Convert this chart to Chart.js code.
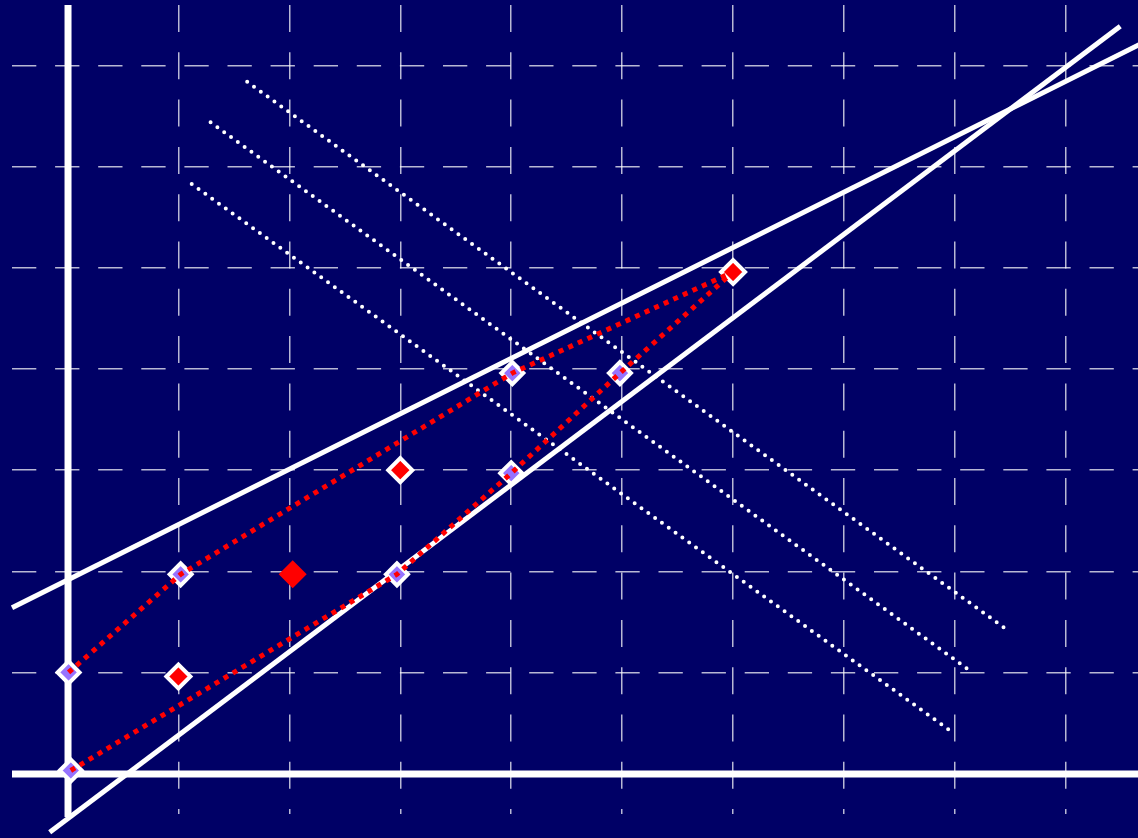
<!DOCTYPE html>
<html>
<head>
<meta charset="utf-8">
<script src="https://cdn.jsdelivr.net/npm/chart.js@4"></script>
<style>
  html, body { margin: 0; padding: 0; background: #000066; }
  #wrap { width: 1138px; height: 838px; }
</style>
</head>
<body>
<div id="wrap"><canvas id="chartOutput" width="1138" height="838"></canvas></div>
<script>
// purple diamonds (white border)
var purpleX = [0.01, 0.03, 1.02, 2.97, 4.01, 4.00, 4.98];
var purpleY = [1.00, 0.03, 1.97, 1.97, 3.96, 2.97, 3.96];

// red diamonds (white border)
var redX = [1.00, 3.00, 6.00];
var redY = [0.96, 3.00, 4.96];

// the big red one, no border
var bigRedX = [2.03];
var bigRedY = [1.97];

// red dotted paths
var upperPathX = [0.01, 1.02, 4.01, 6.00];
var upperPathY = [1.00, 1.97, 3.96, 4.96];
var lowerPathX = [0.03, 2.97, 4.00, 4.98, 6.00];
var lowerPathY = [0.03, 1.97, 2.97, 3.96, 4.96];

// solid white lines
var lineAX = [-0.50, 9.70];
var lineAY = [1.64, 7.23];
var lineBX = [-0.16, 9.49];
var lineBY = [-0.58, 7.39];

// white dotted lines
var dot1X = [1.62, 8.46];
var dot1Y = [6.84, 1.43];
var dot2X = [1.29, 8.12];
var dot2Y = [6.44, 1.03];
var dot3X = [1.12, 7.95];
var dot3Y = [5.83, 0.43];

// axis lines
var vAxisX = [0.005, 0.005];
var vAxisY = [7.60, -0.43];
var hAxisX = [-0.50, 9.80];
var hAxisY = [-0.005, -0.005];

// grid ticks and range
var xTicks = [0, 1, 2, 3, 4, 5, 6, 7, 8, 9];
var yTicks = [0, 1, 2, 3, 4, 5, 6, 7];
var xMin = -0.5, xMax = 9.65;
var yMin = -0.4, yMax = 7.6;

function pairs(xs, ys) {
    return xs.map(function (x, i) { return { x: x, y: ys[i] }; });
}

function whiteLine(xs, ys, width, dash, cap, order) {
    return {
        data: pairs(xs, ys),
        showLine: true,
        borderColor: '#ffffff',
        borderWidth: width,
        borderDash: dash,
        borderCapStyle: cap,
        pointRadius: 0,
        clip: false,
        order: order
    };
}

function redPath(xs, ys) {
    return {
        data: pairs(xs, ys),
        showLine: true,
        borderColor: '#ff0000',
        borderWidth: 5,
        borderDash: [5, 5.5],
        pointRadius: 0,
        clip: false,
        order: 0
    };
}

function markers(xs, ys, fill, radius, border) {
    return {
        data: pairs(xs, ys),
        showLine: false,
        pointStyle: 'rectRot',
        pointRadius: radius,
        pointBackgroundColor: fill,
        pointBorderColor: '#ffffff',
        pointBorderWidth: border,
        clip: false,
        order: 1
    };
}

var datasets = [
    redPath(upperPathX, upperPathY),
    redPath(lowerPathX, lowerPathY),
    markers(purpleX, purpleY, '#9673ff', 11, 4),
    markers(redX, redY, '#ff0000', 12, 4),
    markers(bigRedX, bigRedY, '#ff0000', 14, 0),
    whiteLine(lineAX, lineAY, 5, [], 'butt', 2),
    whiteLine(lineBX, lineBY, 5, [], 'butt', 2),
    whiteLine(dot1X, dot1Y, 4, [0, 8.4], 'round', 2),
    whiteLine(dot2X, dot2Y, 4, [0, 8.4], 'round', 2),
    whiteLine(dot3X, dot3Y, 4, [0, 8.4], 'round', 2),
    whiteLine(vAxisX, vAxisY, 7, [], 'butt', 3),
    whiteLine(hAxisX, hAxisY, 7, [], 'butt', 3)
];

var gridColor = 'rgba(255,255,255,0.72)';

function useTicks(values) {
    return function (scale) {
        scale.ticks = values.map(function (v) { return { value: v }; });
    };
}

var ctx = document.getElementById('chartOutput').getContext('2d');
var chart = new Chart(ctx, {
    type: 'scatter',
    data: { datasets: datasets },
    options: {
        responsive: false,
        animation: false,
        events: [],
        layout: { autoPadding: false, padding: { left: 12, top: 5, right: 0, bottom: 24 } },
        plugins: { legend: { display: false }, tooltip: { enabled: false } },
        scales: {
            x: {
                type: 'linear',
                min: xMin,
                max: xMax,
                afterBuildTicks: useTicks(xTicks),
                ticks: { display: false },
                grid: { color: gridColor, lineWidth: 1.5, drawTicks: false },
                border: { display: false, dash: [27, 20.3] }
            },
            y: {
                type: 'linear',
                min: yMin,
                max: yMax,
                afterBuildTicks: useTicks(yTicks),
                ticks: { display: false },
                grid: { color: gridColor, lineWidth: 1.5, drawTicks: false },
                border: { display: false, dash: [24.3, 18.8] }
            }
        }
    }
});
</script>
</body>
</html>
